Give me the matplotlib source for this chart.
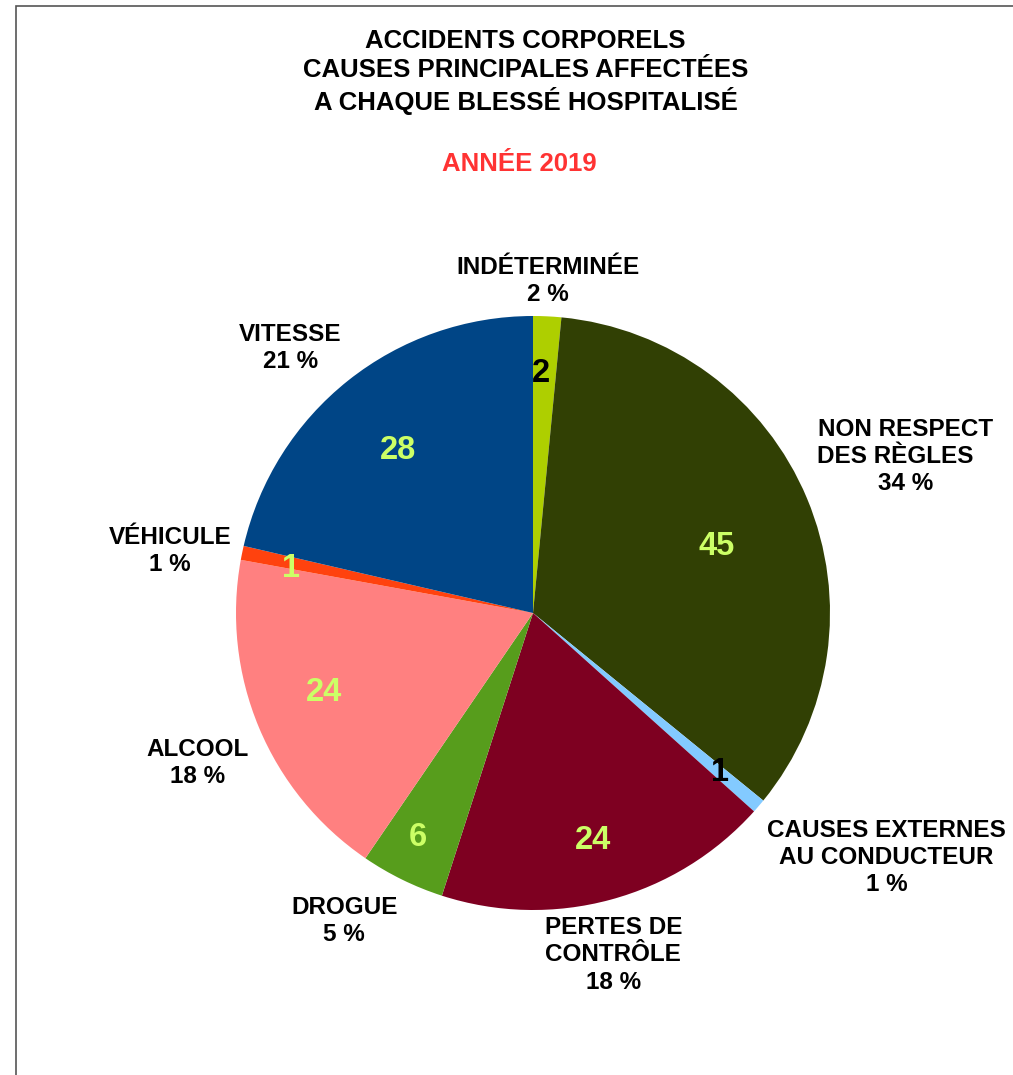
import numpy as np
import matplotlib.pyplot as plt
from matplotlib.patches import Rectangle


### Données

causes = ['INDÉTERMINÉE', 'NON RESPECT\nDES RÈGLES   ', 'CAUSES EXTERNES\nAU CONDUCTEUR',
          'PERTES DE\nCONTRÔLE', 'DROGUE', 'ALCOOL', 'VÉHICULE', 'VITESSE']
blesses = [2, 45, 1, 24, 6, 24, 1, 28]

couleurs = ['#aecf00', '#314004', '#83caff', '#7e0021', '#579d1c', '#ff8080', '#ff420e', '#004586']
couleurs_valeurs = ['black', '#ccff66', 'black', '#ccff66', '#ccff66', '#ccff66', '#ccff66', '#ccff66']

# position des nombres dans les parts (fraction du rayon, décalage d'angle en degrés)
dist_valeurs = [0.82, 0.66, 0.82, 0.78, 0.84, 0.75, 0.83, 0.72]
decal_valeurs = [0.9, -1.9, 0.6, -0.2, -1.5, -2.6, 0.4, 0.6]


plt.rcParams['font.family'] = ['Liberation Sans', 'DejaVu Sans']
plt.rcParams['font.weight'] = 'bold'

W, H = 1013, 1075
fig = plt.figure(figsize=(W / 100, H / 100), dpi=100)
ax = fig.add_axes([0, 0, 1, 1])

centre = (533, H - 613)
rayon = 297

wedges, _ = ax.pie(blesses, colors=couleurs, startangle=90, counterclock=False,
                   center=centre, radius=rayon, wedgeprops=dict(linewidth=0))

total = sum(blesses)
for w, nom, val, c_val, d_val, a_val in zip(wedges, causes, blesses, couleurs_valeurs,
                                             dist_valeurs, decal_valeurs):
    mid = (w.theta1 + w.theta2) / 2

    # nombre dans la part
    a = np.deg2rad(mid + a_val)
    ax.text(centre[0] + np.cos(a) * rayon * d_val, centre[1] + np.sin(a) * rayon * d_val, str(val),
            ha='center', va='center_baseline', fontsize=23.5, color=c_val)

    # étiquette extérieure, ancrée comme dans LibreOffice
    ang = np.deg2rad(mid)
    cx, sy = np.cos(ang), np.sin(ang)
    r_ext = rayon + 11
    ha = 'left' if cx > 0.3 else ('right' if cx < -0.3 else 'center')
    va = 'bottom' if sy > 0.3 else ('top' if sy < -0.3 else 'center')
    x, y = centre[0] + cx * r_ext, centre[1] + sy * r_ext
    if va == 'bottom':
        y -= 1
    elif va == 'top':
        y -= 6
    pct = round(val / total * 100)
    ax.text(x, y, f'{nom}\n{pct} %', ha=ha, va=va, multialignment='center',
            fontsize=17.5, linespacing=1.23)

ax.set_xlim(0, W)
ax.set_ylim(0, H)
ax.set_aspect('equal')
ax.axis('off')

fig.text(0.519, 1 - 72 / H, 'ACCIDENTS CORPORELS\nCAUSES PRINCIPALES AFFECTÉES\nA CHAQUE BLESSÉ HOSPITALISÉ',
         ha='center', va='center', fontsize=18.5, linespacing=1.24)
fig.text(0.513, 1 - 164 / H, 'ANNÉE 2019', ha='center', va='center', fontsize=18.5, color='#ff3333')

fig.add_artist(Rectangle((16 / W, -0.01), 1.1, 1 - 6 / H + 0.01, transform=fig.transFigure,
                         fill=False, edgecolor='#555555', linewidth=1.2))

plt.savefig('out.png', dpi=100)
